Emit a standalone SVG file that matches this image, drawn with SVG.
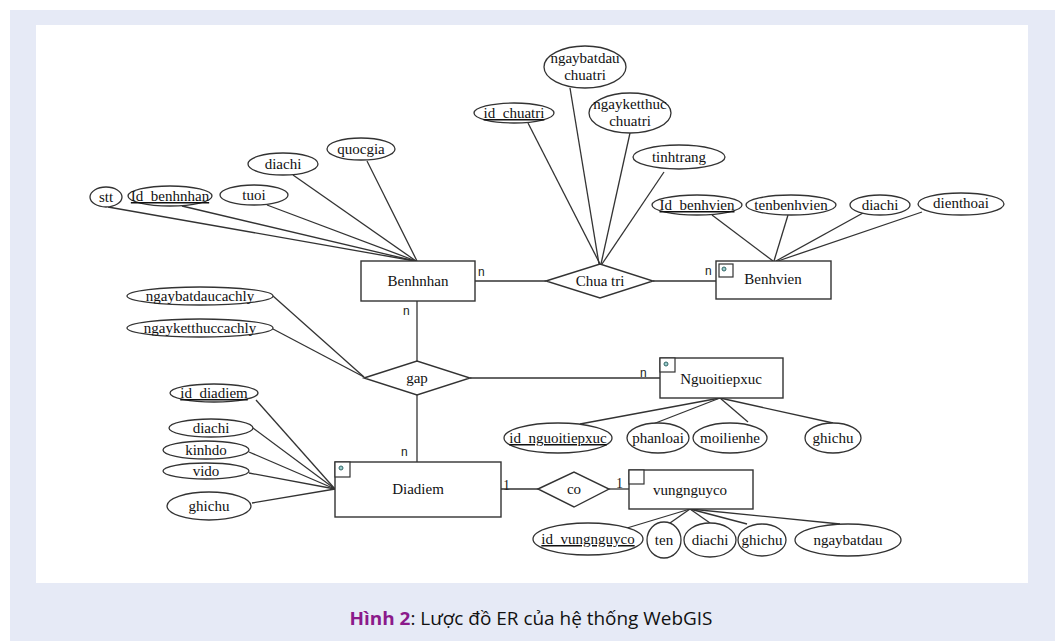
<svg xmlns="http://www.w3.org/2000/svg" width="1058" height="641" viewBox="0 0 1058 641">
<style>
.e{fill:#fff;stroke:#333;stroke-width:1.3}
.r{fill:#fff;stroke:#333;stroke-width:1.4}
.c line,.c polyline{stroke:#333;stroke-width:1.3;fill:none}
.t{font-family:"Liberation Serif",serif;font-size:15px;fill:#111;text-anchor:middle}
.u{text-decoration:underline}
.lb{font-family:"Liberation Sans",sans-serif;font-size:12px;fill:#222}
.ls{font-family:"Liberation Serif",serif;font-size:14px;fill:#222}
.sq{fill:#fff;stroke:#333;stroke-width:1.2}
.dot{fill:#9cc;stroke:#366;stroke-width:1}
</style>
<rect x="10" y="10" width="1045" height="631" fill="#e6eaf6"/>
<rect x="36" y="25" width="992" height="558" fill="#fff"/>
<g id="connectors" class="c">
<line x1="108" y1="207" x2="415" y2="261"/>
<line x1="182" y1="206" x2="415" y2="261"/>
<line x1="267" y1="205" x2="416" y2="261"/>
<line x1="293" y1="175" x2="416" y2="261"/>
<line x1="367" y1="161" x2="417" y2="261"/>
<line x1="528" y1="123" x2="600" y2="264"/>
<line x1="570" y1="88" x2="599" y2="264"/>
<line x1="630" y1="133" x2="601" y2="264"/>
<line x1="664" y1="172" x2="602" y2="264"/>
<line x1="712" y1="215" x2="773" y2="261"/>
<line x1="788" y1="215" x2="774" y2="261"/>
<line x1="863" y1="213" x2="776" y2="261"/>
<line x1="922" y1="212" x2="778" y2="261"/>
<line x1="475" y1="281" x2="546" y2="281"/>
<line x1="653" y1="281" x2="716" y2="281"/>
<line x1="417" y1="301" x2="417" y2="361"/>
<line x1="273" y1="296" x2="364" y2="377"/>
<line x1="273" y1="329" x2="364" y2="377"/>
<line x1="470" y1="378" x2="660" y2="378"/>
<line x1="417" y1="395" x2="417" y2="462"/>
<line x1="580" y1="424" x2="720" y2="398"/>
<line x1="653" y1="424" x2="720" y2="398"/>
<line x1="748" y1="422" x2="720" y2="398"/>
<line x1="833" y1="423" x2="720" y2="398"/>
<line x1="256" y1="400" x2="335" y2="489"/>
<line x1="253" y1="428" x2="335" y2="489"/>
<line x1="249" y1="452" x2="335" y2="489"/>
<line x1="249" y1="473" x2="335" y2="489"/>
<line x1="252" y1="503" x2="335" y2="489"/>
<line x1="501" y1="489" x2="538" y2="489"/>
<line x1="609" y1="489" x2="629" y2="489"/>
<line x1="627" y1="528" x2="690" y2="509"/>
<line x1="670" y1="523" x2="690" y2="509"/>
<line x1="710" y1="523" x2="690" y2="509"/>
<line x1="747" y1="524" x2="690" y2="509"/>
<line x1="840" y1="524" x2="690" y2="509"/>
<text class="lb" x="478" y="276">n</text>
<text class="lb" x="705" y="275">n</text>
<text class="lb" x="403" y="315">n</text>
<text class="lb" x="640" y="377">n</text>
<text class="lb" x="401" y="456">n</text>
<text class="ls" x="503" y="490">1</text>
<text class="ls" x="616" y="488">1</text>
</g>
<g id="benhnhan">
<rect class="r" x="361" y="261" width="114" height="40"/>
<text class="t" x="418" y="286">Benhnhan</text>
</g>
<g id="benhnhan-attrs">
<ellipse class="e" cx="106" cy="197" rx="16" ry="10"/><text class="t" x="106" y="202">stt</text>
<ellipse class="e" cx="170" cy="196" rx="42" ry="10"/><text class="t u" x="170" y="201">Id_benhnhan</text>
<ellipse class="e" cx="254" cy="195" rx="34" ry="10"/><text class="t" x="254" y="200">tuoi</text>
<ellipse class="e" cx="283" cy="164" rx="35" ry="11"/><text class="t" x="283" y="169">diachi</text>
<ellipse class="e" cx="361" cy="149" rx="34" ry="11"/><text class="t" x="361" y="154">quocgia</text>
</g>
<g id="chuatri">
<polygon class="r" points="546,281 600,264 653,281 600,298"/>
<text class="t" x="600" y="286">Chua tri</text>
</g>
<g id="chuatri-attrs">
<ellipse class="e" cx="514" cy="113" rx="40" ry="10"/><text class="t u" x="514" y="118">id_chuatri</text>
<ellipse class="e" cx="585" cy="67" rx="41" ry="21"/><text class="t" x="585" y="63">ngaybatdau</text><text class="t" x="585" y="80">chuatri</text>
<ellipse class="e" cx="630" cy="113" rx="41" ry="20"/><text class="t" x="630" y="109">ngayketthuc</text><text class="t" x="630" y="126">chuatri</text>
<ellipse class="e" cx="679" cy="157" rx="46" ry="12"/><text class="t" x="679" y="162">tinhtrang</text>
</g>
<g id="benhvien">
<rect class="r" x="716" y="261" width="115" height="38"/>
<rect class="sq" x="719" y="264" width="14" height="13"/><circle class="dot" cx="724" cy="269" r="2"/>
<text class="t" x="773" y="284">Benhvien</text>
</g>
<g id="benhvien-attrs">
<ellipse class="e" cx="697" cy="205" rx="45" ry="10"/><text class="t u" x="697" y="210">Id_benhvien</text>
<ellipse class="e" cx="791" cy="205" rx="45" ry="10"/><text class="t" x="791" y="210">tenbenhvien</text>
<ellipse class="e" cx="880" cy="205" rx="30" ry="10"/><text class="t" x="880" y="210">diachi</text>
<ellipse class="e" cx="961" cy="204" rx="43" ry="11"/><text class="t" x="961" y="208">dienthoai</text>
</g>
<g id="gap">
<polygon class="r" points="364,378 417,361 470,378 417,395"/>
<text class="t" x="417" y="383">gap</text>
</g>
<g id="gap-attrs">
<ellipse class="e" cx="200" cy="296" rx="73" ry="9"/><text class="t" x="200" y="301">ngaybatdaucachly</text>
<ellipse class="e" cx="200" cy="328" rx="73" ry="9"/><text class="t" x="200" y="333">ngayketthuccachly</text>
</g>
<g id="nguoitiepxuc">
<rect class="r" x="660" y="358" width="123" height="40"/>
<rect class="sq" x="660" y="358" width="15" height="14"/><circle class="dot" cx="666" cy="364" r="2"/>
<text class="t" x="721" y="384">Nguoitiepxuc</text>
</g>
<g id="nguoitiepxuc-attrs">
<ellipse class="e" cx="558" cy="438" rx="54" ry="15"/><text class="t u" x="558" y="443">id_nguoitiepxuc</text>
<ellipse class="e" cx="658" cy="438" rx="31" ry="15"/><text class="t" x="658" y="443">phanloai</text>
<ellipse class="e" cx="730" cy="438" rx="37" ry="15"/><text class="t" x="730" y="443">moilienhe</text>
<ellipse class="e" cx="833" cy="438" rx="28" ry="15"/><text class="t" x="833" y="443">ghichu</text>
</g>
<g id="diadiem">
<rect class="r" x="335" y="462" width="166" height="55"/>
<rect class="sq" x="335" y="462" width="15" height="15"/><circle class="dot" cx="341" cy="468" r="2"/>
<text class="t" x="418" y="494">Diadiem</text>
</g>
<g id="diadiem-attrs">
<ellipse class="e" cx="214" cy="393" rx="44" ry="9"/><text class="t u" x="214" y="398">id_diadiem</text>
<ellipse class="e" cx="211" cy="428" rx="42" ry="9"/><text class="t" x="211" y="433">diachi</text>
<ellipse class="e" cx="206" cy="450" rx="43" ry="9"/><text class="t" x="206" y="455">kinhdo</text>
<ellipse class="e" cx="206" cy="471" rx="43" ry="8"/><text class="t" x="206" y="476">vido</text>
<ellipse class="e" cx="209" cy="506" rx="42" ry="14"/><text class="t" x="209" y="511">ghichu</text>
</g>
<g id="co">
<polygon class="r" points="538,489 574,472 609,489 574,507"/>
<text class="t" x="574" y="494">co</text>
</g>
<g id="vungnguyco">
<rect class="r" x="629" y="470" width="124" height="39"/>
<rect class="sq" x="629" y="470" width="15" height="14"/>
<text class="t" x="690" y="495">vungnguyco</text>
</g>
<g id="vungnguyco-attrs">
<ellipse class="e" cx="588" cy="539" rx="55" ry="16"/><text class="t u" x="588" y="544">id_vungnguyco</text>
<ellipse class="e" cx="664" cy="540" rx="17" ry="18"/><text class="t" x="664" y="545">ten</text>
<ellipse class="e" cx="710" cy="540" rx="26" ry="17"/><text class="t" x="710" y="545">diachi</text>
<ellipse class="e" cx="762" cy="540" rx="24" ry="16"/><text class="t" x="762" y="545">ghichu</text>
<ellipse class="e" cx="848" cy="540" rx="53" ry="16"/><text class="t" x="848" y="545">ngaybatdau</text>
</g>
<text x="531" y="625" font-family="'Open Sans',sans-serif" font-size="18.5" fill="#111" text-anchor="middle" textLength="363" lengthAdjust="spacingAndGlyphs"><tspan fill="#8b1a8b" font-weight="bold">Hình 2</tspan>: Lược đồ ER của hệ thống WebGIS</text>
</svg>
